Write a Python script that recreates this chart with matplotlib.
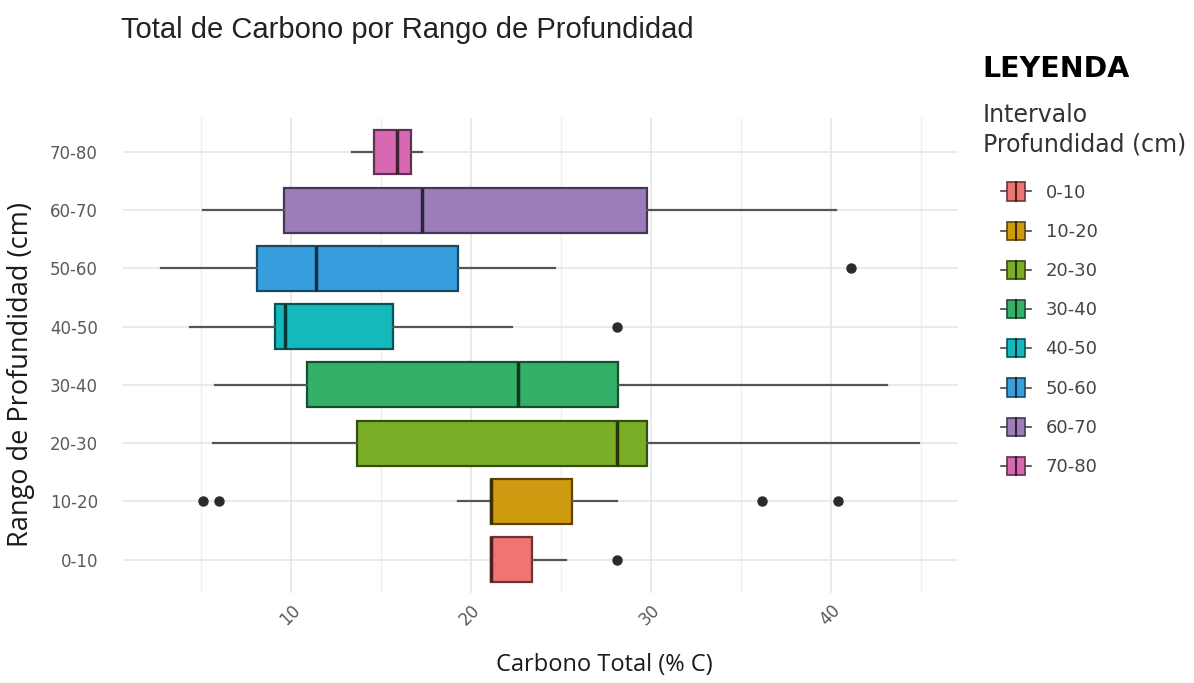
import matplotlib.pyplot as plt
from matplotlib.legend_handler import HandlerBase
from matplotlib.patches import Rectangle
from matplotlib.lines import Line2D
import matplotlib.colors as mcolors

# datos
rangos = ["0-10", "10-20", "20-30", "30-40", "40-50", "50-60", "60-70", "70-80"]
q1 = [21.1, 21.1, 13.7, 10.9, 9.1, 8.1, 9.6, 14.6]
mediana = [21.1, 21.1, 28.1, 22.6, 9.7, 11.4, 17.3, 15.9]
q3 = [23.4, 25.6, 29.8, 28.2, 15.7, 19.3, 29.8, 16.7]
bigote_min = [21.1, 19.3, 5.7, 5.8, 4.4, 2.8, 5.1, 13.4]
bigote_max = [25.3, 28.1, 44.9, 43.1, 22.3, 24.7, 40.3, 17.3]
atipicos = [[28.1], [5.1, 6.0, 36.2, 40.4], [], [], [28.1], [41.1], [], []]
colores = ["#F07570", "#CF9A10", "#7BAE27", "#35B068", "#14B9BE", "#379FDD", "#9C7DBA", "#D769B2"]


def oscuro(c, f=0.45):
    r, g, b = mcolors.to_rgb(c)
    return (r * f, g * f, b * f)


fig = plt.figure(figsize=(11.94, 6.83), dpi=100)
ax = fig.add_axes([0.103, 0.132, 0.699, 0.695])

stats = []
for i in range(len(rangos)):
    stats.append(dict(med=mediana[i], q1=q1[i], q3=q3[i], whislo=bigote_min[i],
                      whishi=bigote_max[i], fliers=atipicos[i]))

bp = ax.bxp(stats, positions=range(1, len(rangos) + 1), widths=0.77,
            orientation='horizontal', patch_artist=True, showcaps=False,
            whiskerprops=dict(color="#555555", lw=1.6),
            flierprops=dict(marker='o', markerfacecolor="#2b2b2b", markeredgecolor="#2b2b2b",
                            markersize=6.5),
            zorder=3)
for i, caja in enumerate(bp['boxes']):
    caja.set_facecolor(colores[i])
    caja.set_edgecolor(oscuro(colores[i]))
    caja.set_linewidth(1.6)
for i, med in enumerate(bp['medians']):
    med.set_color(oscuro(colores[i], 0.3))
    med.set_linewidth(2.5)

ax.set_xlim(0.67, 47.05)
ax.set_ylim(0.43, 8.58)
ax.set_yticks(range(1, len(rangos) + 1))
ax.set_yticklabels(rangos)
ax.set_xticks([10, 20, 30, 40])
ax.set_xticks([5, 15, 25, 35, 45], minor=True)
ax.tick_params(axis='both', which='both', length=0, labelsize=12, labelcolor="#5a5a5a")
ax.tick_params(axis='y', pad=18)
ax.tick_params(axis='x', pad=6)
for t in ax.get_xticklabels():
    t.set_rotation(45)
    t.set_ha('right')
    t.set_rotation_mode('anchor')
ax.grid(True, which='major', color="#e6e6e6", lw=1.2, zorder=0)
ax.grid(True, which='minor', axis='x', color="#eeeeee", lw=0.9, zorder=0)
for s in ax.spines.values():
    s.set_visible(False)
ax.set_axisbelow(True)

ax.set_xlabel("Carbono Total (% C)", fontsize=17, family="Open Sans", color="#1a1a1a")
ax.xaxis.set_label_coords(0.577, -0.126)
ax.set_ylabel("Rango de Profundidad (cm)", fontsize=19.5, family="Open Sans", color="#1a1a1a")
ax.yaxis.set_label_coords(-0.105, 0.461)
fig.text(0.101, 0.944, "Total de Carbono por Rango de Profundidad", fontsize=21,
         family="Liberation Sans", color="#222222", va='baseline')


class HandlerCaja(HandlerBase):
    def __init__(self, color):
        super().__init__()
        self.color = color

    def create_artists(self, legend, orig_handle, xdescent, ydescent, width, height, fontsize, trans):
        cx = width / 2 - xdescent
        w = width * 0.6
        h = height * 0.98
        cy = height / 2 - ydescent
        linea = Line2D([cx - width / 2, cx + width / 2], [cy, cy], color="#444444", lw=1.2, transform=trans)
        caja = Rectangle((cx - w / 2, cy - h / 2), w, h, facecolor=self.color,
                         edgecolor=oscuro(self.color), lw=1.2, transform=trans)
        med = Line2D([cx, cx], [cy - h / 2, cy + h / 2], color=oscuro(self.color, 0.3), lw=1.5, transform=trans)
        return [linea, caja, med]


handles = [Rectangle((0, 0), 1, 1) for _ in rangos]
hmap = {h: HandlerCaja(c) for h, c in zip(handles, colores)}
leg = fig.legend(handles, rangos, handler_map=hmap, loc='upper left',
                 bbox_to_anchor=(0.825, 0.757), frameon=False, fontsize=13,
                 handlelength=1.65, handleheight=1.2, labelspacing=1.1, handletextpad=0.8)
for t in leg.get_texts():
    t.set_color("#444444")

fig.text(0.823, 0.899, "LEYENDA", fontsize=20.5, fontweight='bold', color="black", va='center')
fig.text(0.823, 0.81, "Intervalo\nProfundidad (cm)", fontsize=17, color="#333333",
         va='center', linespacing=1.3)

fig.savefig("out.png", dpi=100)
